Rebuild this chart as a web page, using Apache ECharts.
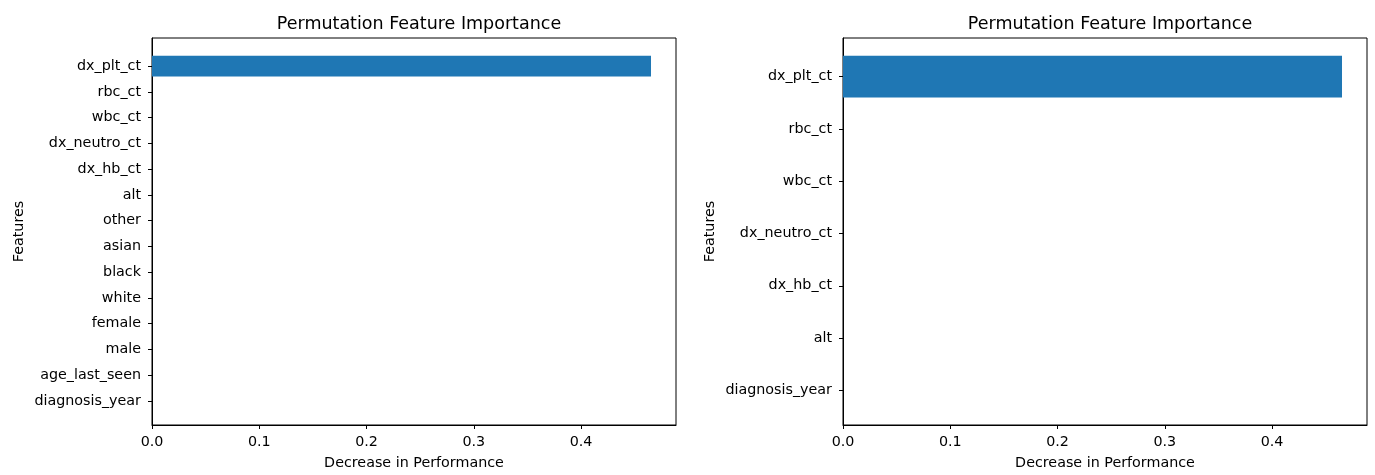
<!DOCTYPE html>
<html>
<head>
<meta charset="utf-8">
<script src="https://cdn.jsdelivr.net/npm/echarts@6/dist/echarts.min.js"></script>
<style>html,body{margin:0;padding:0;background:#fff;}#c{width:1375px;height:475px;}</style>
</head>
<body>
<div id="c"></div>
<script>
// Left plot: features listed bottom-to-top (matplotlib barh order)
const featuresLeft = ["diagnosis_year","age_last_seen","male","female","white","black","asian","other","alt","dx_hb_ct","dx_neutro_ct","wbc_ct","rbc_ct","dx_plt_ct"];
const valuesLeft   = [0,0,0,0,0,0,0,0,0,0,0,0,0,0.4652];
// Right plot
const featuresRight = ["diagnosis_year","alt","dx_hb_ct","dx_neutro_ct","wbc_ct","rbc_ct","dx_plt_ct"];
const valuesRight   = [0,0,0,0,0,0,0.4652];
const xTicks = [0,0.1,0.2,0.3,0.4];
const titleText = "Permutation Feature Importance";
const xName = "Decrease in Performance";
const yName = "Features";

const font = "DejaVu Sans";
const fs = 14.3;
const XMAX = 0.4885;
const chart = echarts.init(document.getElementById('c'));

const TOP = 38, BOTTOM = 46, H = 475 - TOP - BOTTOM;
// inner grid inset so category bands match matplotlib's 5% margins
function inset(n){
  const ext = (n-1)+0.8, m = ext*0.05;
  const units = ext + 2*m;
  return (m - 0.1) * H / units;
}

const plots = [
  {left:152, right:699, feats:featuresLeft, vals:valuesLeft},
  {left:843, right:8, feats:featuresRight, vals:valuesRight}
];

const grids=[], xAxes=[], yAxes=[], series=[], titles=[];
plots.forEach((p,k)=>{
  const ins = inset(p.feats.length);
  const g0 = grids.length;
  grids.push({left:p.left,right:p.right,top:TOP,bottom:BOTTOM,show:true,borderColor:'#000',borderWidth:1,backgroundColor:'#fff'});
  grids.push({left:p.left,right:p.right,top:TOP+ins,bottom:BOTTOM+ins});
  xAxes.push({
    gridIndex:g0, type:'value', min:0, max:XMAX,
    name:xName, nameLocation:'middle', nameGap:31,
    nameTextStyle:{fontFamily:font,fontSize:fs,color:'#000'},
    axisLine:{show:true,onZero:false,lineStyle:{color:'#000',width:1}},
    axisTick:{show:true,length:4,lineStyle:{color:'#000'},customValues:xTicks},
    axisLabel:{fontFamily:font,fontSize:fs,color:'#000',margin:10,customValues:xTicks,formatter:v=>v.toFixed(1)},
    splitLine:{show:false}
  });
  xAxes.push({gridIndex:g0+1,type:'value',min:0,max:XMAX,show:false,splitLine:{show:false}});
  yAxes.push({
    gridIndex:g0, type:'value', min:0, max:1,
    name:yName, nameLocation:'middle', nameGap:126,
    nameTextStyle:{fontFamily:font,fontSize:fs,color:'#000'},
    axisLine:{show:true,onZero:false,lineStyle:{color:'#000'}},
    axisTick:{show:false}, axisLabel:{show:false}, splitLine:{show:false}
  });
  yAxes.push({
    gridIndex:g0+1, type:'category', data:p.feats,
    axisLine:{show:false},
    axisTick:{show:true,alignWithLabel:true,length:4,lineStyle:{color:'#000'}},
    axisLabel:{fontFamily:font,fontSize:fs,color:'#000',margin:11,interval:0},
    splitLine:{show:false}
  });
  series.push({type:'bar',xAxisIndex:g0+1,yAxisIndex:g0+1,barWidth:'80%',itemStyle:{color:'#1f77b4'},data:p.vals});
  titles.push({text:titleText,left:p.left+(1375-p.right-p.left)/2,top:10,textAlign:'center',
    textStyle:{fontFamily:font,fontSize:17.5,fontWeight:'normal',color:'#000'}});
});

chart.setOption({
  animation:false,
  backgroundColor:'#fff',
  title:titles, grid:grids, xAxis:xAxes, yAxis:yAxes, series:series
});
</script>
</body>
</html>
